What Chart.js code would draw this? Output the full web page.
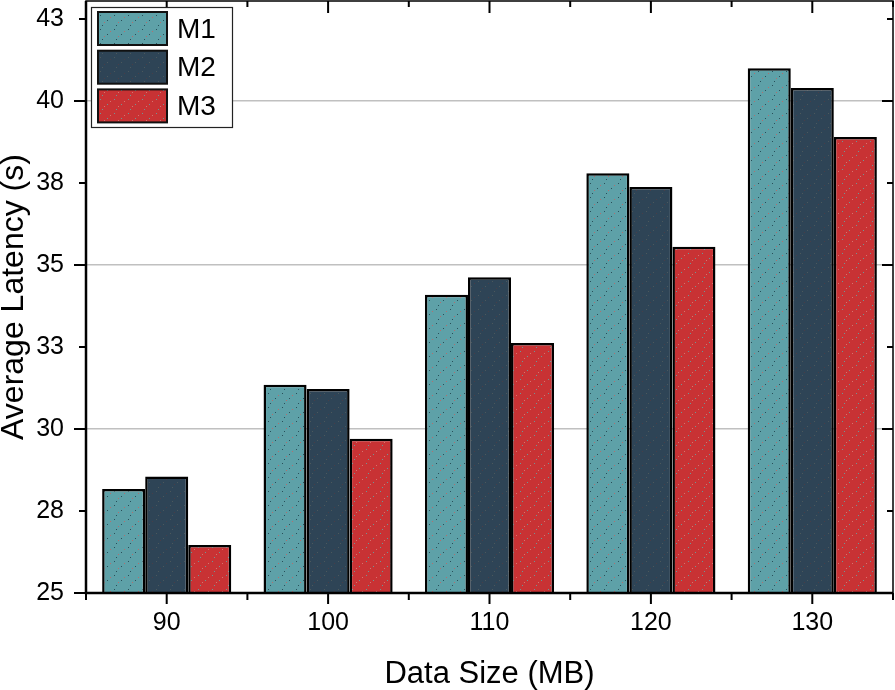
<!DOCTYPE html>
<html>
<head>
<meta charset="utf-8">
<script src="https://cdn.jsdelivr.net/npm/chart.js@4/dist/chart.umd.min.js"></script>
<style>
  html, body { margin: 0; padding: 0; background: #fff; }
  #wrap { width: 895px; height: 690px; }
</style>
</head>
<body>
<div id="wrap"><canvas id="chart"></canvas></div>
<script>
// data
const categories = ['90', '100', '110', '120', '130'];
const m1 = [28.17, 31.35, 34.09, 37.80, 41.00];
const m2 = [28.55, 31.22, 34.63, 37.38, 40.40];
const m3 = [26.46, 29.70, 32.62, 35.56, 38.90];
const yTicks = [25, 27.5, 30, 32.5, 35, 37.5, 40, 42.5];
const gridAt = [30, 35, 40];

const FONT = '"Liberation Sans", Arial, Helvetica, sans-serif';

// small dotted texture like the printed figure
function dots(base, c1, c2) {
  const c = document.createElement('canvas');
  c.width = 14; c.height = 14;
  const g = c.getContext('2d');
  g.fillStyle = base;
  g.fillRect(0, 0, 14, 14);
  g.fillStyle = c1;
  g.fillRect(2, 1, 1, 1); g.fillRect(9, 6, 1, 1); g.fillRect(4, 11, 1, 1);
  g.fillStyle = c2;
  g.fillRect(12, 3, 1, 1); g.fillRect(6, 8, 1, 1);
  return g.createPattern(c, 'repeat');
}

// frame, tick marks and the legend box
const framePlugin = {
  id: 'frame',
  afterDraw(chart) {
    const ctx = chart.ctx;
    const a = chart.chartArea;
    const x = chart.scales.x, y = chart.scales.y;
    ctx.save();
    ctx.strokeStyle = '#000';

    // y ticks
    ctx.lineWidth = 2;
    yTicks.forEach(v => {
      const py = Math.round(y.getPixelForValue(v));
      const major = (v % 5 === 0);
      const len = major ? 12 : 7;
      ctx.beginPath();
      ctx.moveTo(a.left - len, py); ctx.lineTo(a.left, py);
      ctx.moveTo(a.right, py); ctx.lineTo(a.right - (major ? 11 : 6), py);
      ctx.stroke();
    });

    // x ticks: majors at centres, minors at boundaries
    const n = categories.length;
    const step = (a.right - a.left) / n;
    for (let i = 0; i < n; i++) {
      const px = x.getPixelForValue(i);
      ctx.beginPath();
      ctx.moveTo(px, a.bottom); ctx.lineTo(px, a.bottom + 11);
      ctx.moveTo(px, a.top); ctx.lineTo(px, a.top + 12);
      ctx.stroke();
    }
    for (let i = 0; i <= n; i++) {
      const px = a.left + i * step;
      ctx.beginPath();
      ctx.moveTo(px, a.bottom); ctx.lineTo(px, a.bottom + 7);
      ctx.moveTo(px, a.top); ctx.lineTo(px, a.top + 6);
      ctx.stroke();
    }

    // frame
    ctx.lineWidth = 1.5;
    ctx.strokeRect(a.left, a.top, a.right - a.left, a.bottom - a.top);
    ctx.lineWidth = 2.5;
    ctx.beginPath();
    ctx.moveTo(a.left, a.top); ctx.lineTo(a.left, a.bottom);
    ctx.lineTo(a.right, a.bottom);
    ctx.stroke();

    // legend
    const lx = 91, ly = 7, lw = 141, lh = 120;
    ctx.fillStyle = '#fff';
    ctx.fillRect(lx, ly, lw, lh);
    ctx.lineWidth = 1.2;
    ctx.strokeStyle = '#222';
    ctx.strokeRect(lx + 0.5, ly + 0.5, lw, lh);
    ctx.font = '28px ' + FONT;
    ctx.textBaseline = 'middle';
    ctx.textAlign = 'left';
    chart.data.datasets.forEach((ds, i) => {
      const sy = 12 + i * 38.7;
      ctx.fillStyle = ds.backgroundColor;
      ctx.fillRect(98, sy, 69, 33);
      ctx.lineWidth = 2;
      ctx.strokeStyle = '#111';
      ctx.strokeRect(98, sy, 69, 33);
      ctx.fillStyle = '#000';
      ctx.fillText(ds.label, 177, sy + 18);
    });
    ctx.restore();
  }
};

new Chart(document.getElementById('chart'), {
  type: 'bar',
  data: {
    labels: categories,
    datasets: [
      { label: 'M1', data: m1, backgroundColor: dots('rgb(94,161,168)', 'rgb(40,80,90)', 'rgb(180,110,110)') },
      { label: 'M2', data: m2, backgroundColor: dots('rgb(46,68,86)', 'rgb(75,88,92)', 'rgb(72,62,72)') },
      { label: 'M3', data: m3, backgroundColor: dots('rgb(200,50,52)', 'rgb(110,150,150)', 'rgb(215,115,110)') }
    ]
  },
  options: {
    responsive: true,
    maintainAspectRatio: false,
    animation: false,
    layout: { padding: { top: 1, right: 2, left: 0, bottom: 0 } },
    datasets: {
      bar: {
        categoryPercentage: 0.8,
        barPercentage: 1.0,
        borderColor: '#000',
        borderWidth: 2.5,
        borderSkipped: false
      }
    },
    plugins: {
      legend: { display: false },
      tooltip: { enabled: false }
    },
    scales: {
      x: {
        grid: { display: false, drawTicks: false },
        border: { display: false },
        ticks: { color: '#000', padding: 15, font: { family: FONT, size: 25 } },
        title: {
          display: true, text: 'Data Size (MB)', color: '#000',
          font: { family: FONT, size: 31, lineHeight: 1 }, padding: { top: 0, bottom: 0 }
        },
        afterFit(scale) { scale.height = 97; scale.paddingLeft = 0; scale.paddingRight = 0; }
      },
      y: {
        min: 25,
        max: 43.05,
        afterBuildTicks(scale) { scale.ticks = yTicks.map(v => ({ value: v })); },
        grid: {
          drawTicks: false,
          color: ctx => gridAt.includes(ctx.tick && ctx.tick.value) ? '#c0c0c0' : 'rgba(0,0,0,0)',
          lineWidth: 1.5
        },
        border: { display: false },
        ticks: {
          color: '#000', padding: 22, font: { family: FONT, size: 25 },
          callback: v => String(Math.round(v))
        },
        title: {
          display: true, text: 'Average Latency (s)', color: '#000',
          font: { family: FONT, size: 32, lineHeight: 0.9 }, padding: { top: 0, bottom: 0 }
        },
        afterFit(scale) { scale.width = 86; scale.paddingTop = 0; scale.paddingBottom = 0; }
      }
    }
  },
  plugins: [framePlugin]
});
</script>
</body>
</html>
